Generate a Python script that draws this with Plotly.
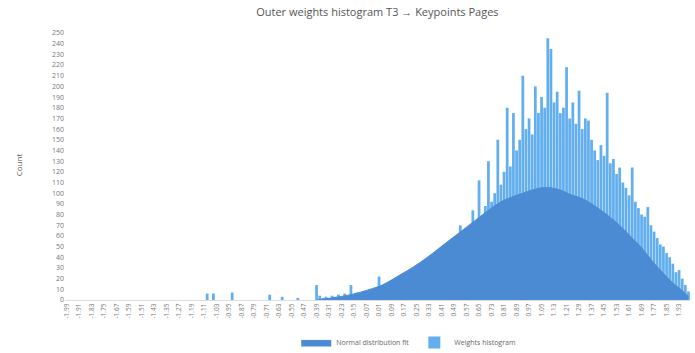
import plotly.graph_objects as go

# Histogram of outer-layer weights: 200 bins of width 0.02 over [-2, 2]
BIN_START = -1.99
BIN_WIDTH = 0.02
N_BINS = 200

# Counts per bin (bins 0..199)
counts = [0] * 43 + [
    0, 0, 6, 0, 6, 0, 0, 0, 0, 0,        # 43-52
    7, 0, 0, 0, 0, 0, 0, 0, 0, 0,        # 53-62
    0, 0, 5, 0, 0, 0, 3, 0, 0, 0,        # 63-72
    0, 2, 0, 0, 0, 0, 0, 14, 4, 2,       # 73-82
    3, 1, 4, 3, 5, 2, 6, 4, 14, 5,       # 83-92
    7, 4, 8, 6, 9, 7, 12, 22, 8, 11,     # 93-102
    9, 14, 10, 16, 12, 18, 15, 28, 17, 21,   # 103-112
    19, 26, 22, 34, 25, 30, 28, 44, 33, 40,  # 113-122
    36, 52, 45, 70, 55, 62, 58, 84, 68, 112, # 123-132
    75, 88, 130, 92, 100, 150, 108, 120, 180, 125,  # 133-142
    175, 140, 150, 210, 160, 170, 155, 200, 175, 190,  # 143-152
    180, 245, 235, 185, 195, 175, 180, 218, 170, 185,  # 153-162
    165, 196, 160, 170, 168, 150, 140, 131, 145, 135,  # 163-172
    194, 128, 132, 118, 124, 110, 105, 98, 124, 92,    # 173-182
    86, 80, 78, 87, 70, 64, 58, 52, 50, 44,            # 183-192
    40, 34, 26, 28, 20, 14, 8,                         # 193-199
]

# Fitted distribution, sampled at selected bins
fit_bins = [80, 85, 91, 96, 101, 107, 111, 115, 119, 123, 127, 131, 135,
            139, 143, 146, 149, 152, 155, 158, 161, 165, 168, 171, 175,
            178, 181, 184, 187, 190, 194, 197, 199]
fit_values = [0, 2, 5, 9, 14, 24, 31, 39, 48, 57, 66, 75, 84,
              92, 97, 100, 103, 105, 105, 103, 99, 95, 90, 84, 75,
              67, 58, 49, 38, 28, 16, 9, 3]

bin_centers = [round(BIN_START + BIN_WIDTH * i, 2) for i in range(N_BINS)]
fit_x = [bin_centers[i] for i in fit_bins]

tick_vals = bin_centers[::4]
tick_text = [f"{v:.2f}" for v in tick_vals]

fig = go.Figure()

fig.add_trace(go.Bar(
    x=bin_centers,
    y=counts,
    name="Weights histogram",
    marker=dict(color="#62aeee", line=dict(width=0)),
    legendrank=2,
))

fig.add_trace(go.Scatter(
    x=fit_x,
    y=fit_values,
    name="Normal distribution fit",
    mode="lines",
    line=dict(color="#4b8bd3", width=1, shape="spline", smoothing=1.0),
    fill="tozeroy",
    fillcolor="#4b8bd3",
    legendrank=1,
))

fig.update_layout(
    width=695,
    height=353,
    margin=dict(l=65, r=5, t=30, b=53, autoexpand=False),
    paper_bgcolor="white",
    plot_bgcolor="white",
    bargap=0.12,
    font=dict(family="Open Sans, sans-serif", size=7, color="#666666"),
    title=dict(
        text="Outer weights histogram T3 \u2192 Keypoints Pages",
        x=0.543, xanchor="center", y=0.966, yanchor="middle",
        font=dict(size=11, color="#555555"),
    ),
    showlegend=True,
    legend=dict(
        orientation="h", x=0.55, xanchor="center",
        yref="container", y=0.03, yanchor="middle",
        font=dict(size=7, color="#666666"),
        itemwidth=30,
    ),
    xaxis=dict(
        range=[-2.0, 2.0],
        tickmode="array",
        tickvals=tick_vals,
        ticktext=tick_text,
        tickangle=-90,
        tickfont=dict(size=6.5, color="#777777"),
        showgrid=False,
        zeroline=False,
        showline=True,
        linecolor="#dddddd",
        ticks="",
        automargin=False,
    ),
    yaxis=dict(
        range=[0, 252.8],
        dtick=10,
        tickfont=dict(size=7, color="#777777"),
        showgrid=False,
        zeroline=False,
        showline=False,
        ticks="",
        automargin=False,
        title=dict(text="Count", font=dict(size=8, color="#555555"), standoff=28),
    ),
)

fig.write_html("out.html")
